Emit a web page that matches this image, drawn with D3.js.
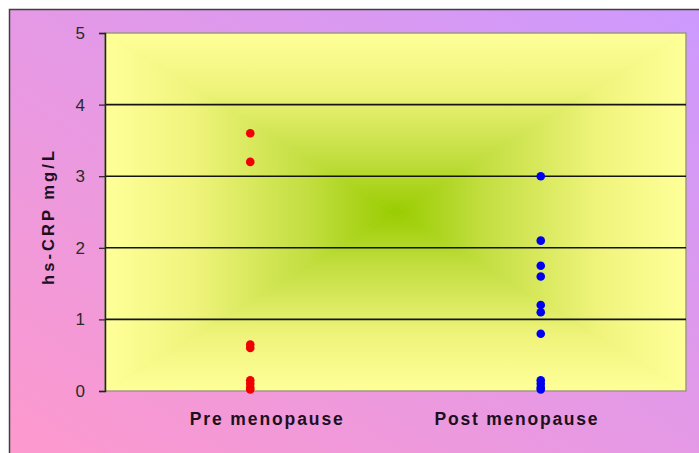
<!DOCTYPE html>
<html>
<head>
<meta charset="utf-8">
<script src="https://cdn.jsdelivr.net/npm/d3@7"></script>
<style>
  html, body { margin: 0; padding: 0; background: #ffffff; }
  svg { display: block; }
</style>
</head>
<body>
<script>
/* DATA */
var categories = ['Pre menopause', 'Post menopause'];
var categoryX = [1, 2];            // x position of each group of dots
var labelX = [1.055, 1.915];       // where the category captions sit (same units)
var preValues = [3.6, 3.2, 0.65, 0.6, 0.15, 0.1, 0.05, 0.02];
var postValues = [3.0, 2.1, 1.75, 1.6, 1.2, 1.1, 0.8, 0.15, 0.1, 0.05, 0.02];
var yTicks = [0, 1, 2, 3, 4, 5];
var yTitle = 'hs-CRP mg/L';

/* LOOK */
var width = 699;
var height = 453;
var plot = {left: 105, top: 33, right: 686, bottom: 391};
var dotRadius = 4.3;
var seriesColors = ['#f00000', '#0000f0'];
var edgeColor = '#ffff99';
var centreColor = '#99cc00';
var textColor = '#1c1020';

var svg = d3.select('body').append('svg')
    .attr('width', width)
    .attr('height', height);

var defs = svg.append('defs');

// outer panel: pink bottom-left to purple top-right
var panelGrad = defs.append('linearGradient')
    .attr('id', 'panelGrad')
    .attr('x1', 0).attr('y1', 1)
    .attr('x2', 1).attr('y2', 0);
panelGrad.append('stop').attr('offset', '0%').attr('stop-color', '#ff99cc');
panelGrad.append('stop').attr('offset', '100%').attr('stop-color', '#cc99ff');

svg.append('rect')
    .attr('x', 9.5)
    .attr('y', 9.5)
    .attr('width', width + 20)
    .attr('height', height + 20)
    .attr('fill', 'url(#panelGrad)')
    .attr('stroke', '#404040')
    .attr('stroke-width', 1.5);

// scales
var x = d3.scaleLinear().domain([0.5, 2.5]).range([plot.left, plot.right]);
var y = d3.scaleLinear().domain([0, 5]).range([plot.bottom, plot.top]);

// plot area: "from centre" gradient, built from four triangles
var cx = (plot.left + plot.right) / 2;
var cy = (plot.top + plot.bottom) / 2;
var tl = [plot.left, plot.top], tr = [plot.right, plot.top];
var bl = [plot.left, plot.bottom], br = [plot.right, plot.bottom];
var c = [cx, cy];
var pieces = [
    {id: 'gTop', pts: [tl, tr, c], from: [cx, plot.top]},
    {id: 'gBottom', pts: [bl, br, c], from: [cx, plot.bottom]},
    {id: 'gLeft', pts: [tl, bl, c], from: [plot.left, cy]},
    {id: 'gRight', pts: [tr, br, c], from: [plot.right, cy]}
];

pieces.forEach(function(p) {
    var g = defs.append('linearGradient')
        .attr('id', p.id)
        .attr('gradientUnits', 'userSpaceOnUse')
        .attr('x1', p.from[0]).attr('y1', p.from[1])
        .attr('x2', cx).attr('y2', cy);
    g.append('stop').attr('offset', '0%').attr('stop-color', edgeColor);
    g.append('stop').attr('offset', '30%').attr('stop-color', '#f0f47c');
    g.append('stop').attr('offset', '70%').attr('stop-color', '#c2de40');
    g.append('stop').attr('offset', '100%').attr('stop-color', centreColor);
});

var bg = svg.append('g').attr('class', 'plotBg');
bg.append('rect')
    .attr('x', plot.left)
    .attr('y', plot.top)
    .attr('width', plot.right - plot.left)
    .attr('height', plot.bottom - plot.top)
    .attr('fill', '#dcec6a');
bg.selectAll('path.piece')
    .data(pieces)
    .join('path')
    .attr('class', 'piece')
    .attr('d', function(p) { return 'M' + p.pts.join('L') + 'Z'; })
    .attr('fill', function(p) { return 'url(#' + p.id + ')'; })
    .attr('stroke', function(p) { return 'url(#' + p.id + ')'; })
    .attr('stroke-width', 0.6);

// plot border (grey)
svg.append('rect')
    .attr('x', plot.left)
    .attr('y', plot.top)
    .attr('width', plot.right - plot.left)
    .attr('height', plot.bottom - plot.top)
    .attr('fill', 'none')
    .attr('stroke', '#8a8080')
    .attr('stroke-width', 1.2);

// gridlines
svg.append('g')
    .selectAll('line')
    .data(yTicks.filter(function(d) { return d > 0 && d < 5; }))
    .join('line')
    .attr('x1', plot.left)
    .attr('x2', plot.right)
    .attr('y1', function(d) { return y(d); })
    .attr('y2', function(d) { return y(d); })
    .attr('stroke', '#141414')
    .attr('stroke-width', 1.6);

// y axis
var yAxis = svg.append('g')
    .attr('transform', 'translate(' + plot.left + ',0)')
    .call(d3.axisLeft(y).tickValues(yTicks).tickSize(6).tickPadding(14).tickFormat(d3.format('d')));
yAxis.select('.domain').attr('stroke', '#2a2020').attr('stroke-width', 1.5);
yAxis.selectAll('.tick line').attr('stroke', '#2a2020').attr('stroke-width', 1.2);
yAxis.selectAll('.tick text')
    .attr('fill', '#2a2a2a')
    .style('font', '17px "Liberation Sans", Arial, sans-serif');

// y title
svg.append('text')
    .attr('transform', 'translate(54,' + (cy + 6) + ') rotate(-90)')
    .attr('text-anchor', 'middle')
    .attr('textLength', 134)
    .attr('lengthAdjust', 'spacing')
    .attr('fill', textColor)
    .style('font', 'bold 16.5px "Liberation Sans", Arial, sans-serif')
    .text(yTitle);

// category captions
svg.append('g')
    .selectAll('text')
    .data(categories)
    .join('text')
    .attr('x', function(d, i) { return x(labelX[i]); })
    .attr('y', 425)
    .attr('text-anchor', 'middle')
    .attr('textLength', function(d, i) { return i === 0 ? 153 : 163; })
    .attr('lengthAdjust', 'spacing')
    .attr('fill', textColor)
    .style('font', 'bold 17.5px "Liberation Sans", Arial, sans-serif')
    .text(function(d) { return d; });

// dots
var series = [preValues, postValues];
series.forEach(function(vals, i) {
    svg.append('g')
        .selectAll('circle')
        .data(vals)
        .join('circle')
        .attr('cx', x(categoryX[i]))
        .attr('cy', function(d) { return y(d); })
        .attr('r', dotRadius)
        .attr('fill', seriesColors[i]);
});
</script>
</body>
</html>
